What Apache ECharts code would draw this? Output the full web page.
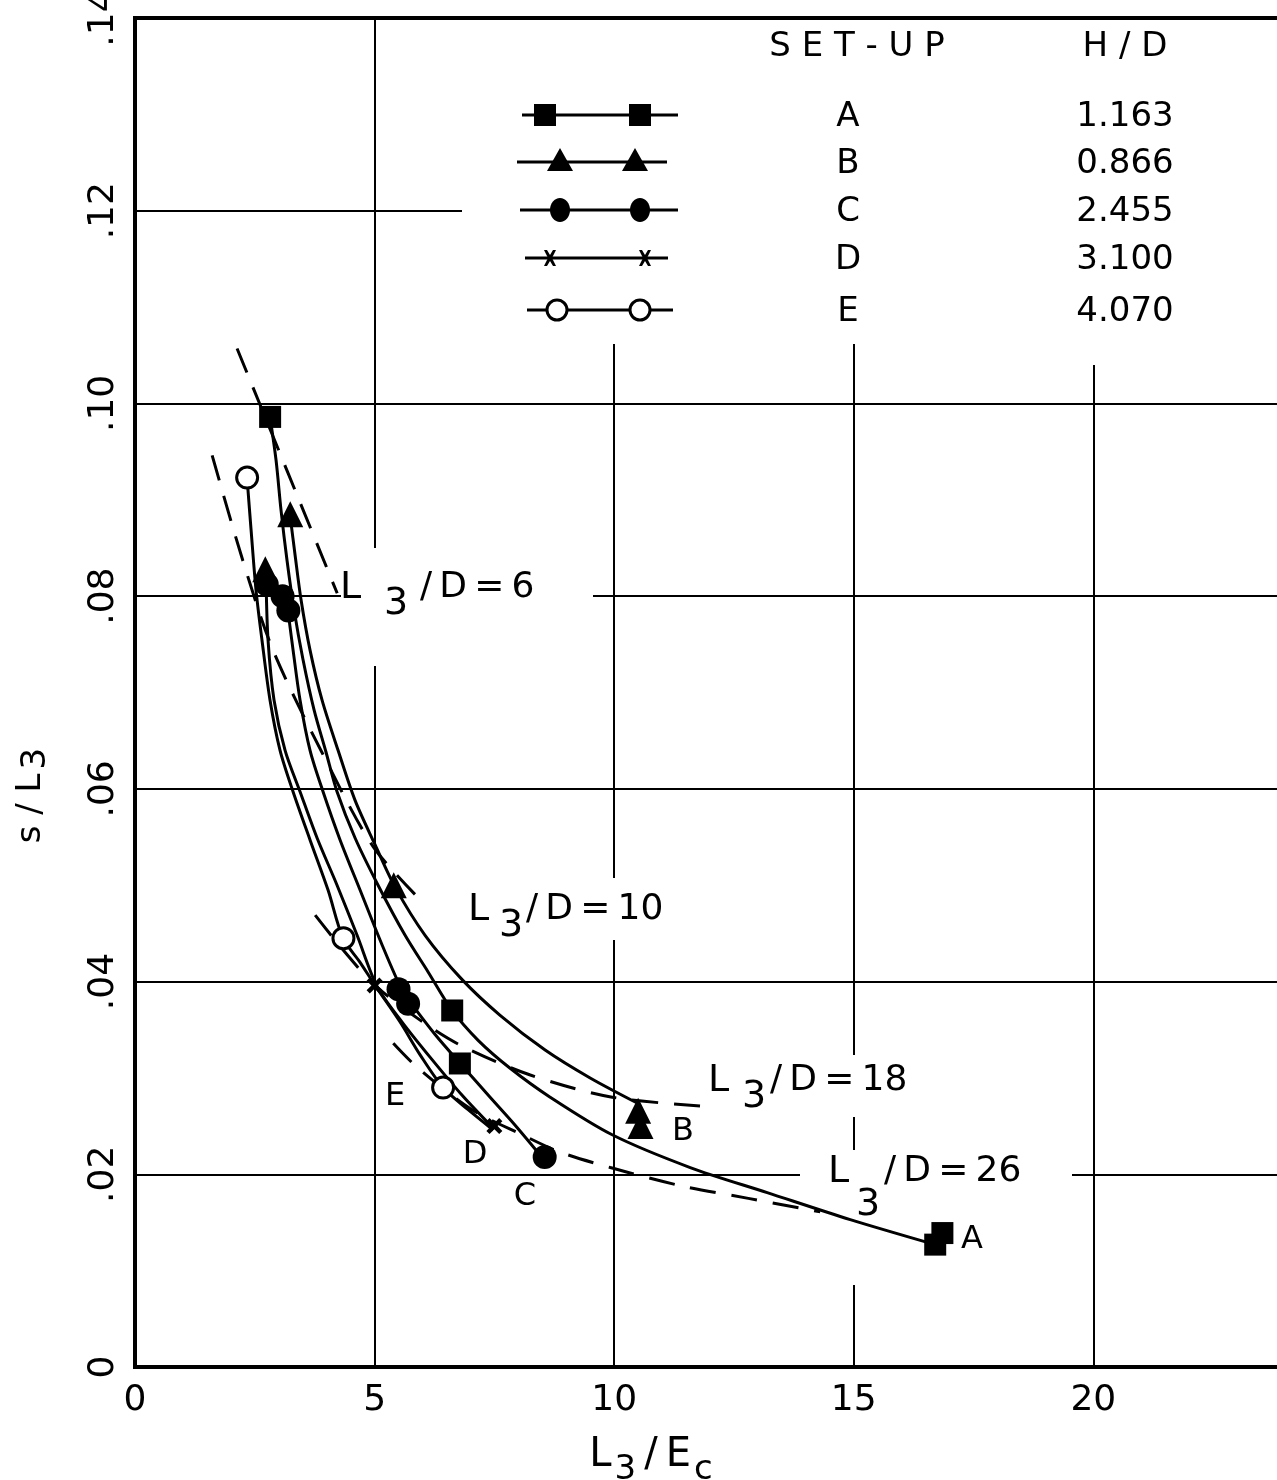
<!DOCTYPE html>
<html><head><meta charset="utf-8">
<script src="https://cdn.jsdelivr.net/npm/echarts@6/dist/echarts.min.js"></script>
<style>html,body{margin:0;padding:0;background:#fff}#c{width:1277px;height:1480px}</style>
</head><body><div id="c"></div>
<script>
// ---- data ----
const xTickValues = [0, 5, 10, 15, 20];
const yTickLabels = ['0', '.02', '.04', '.06', '.08', '.10', '.12', '.14'];
const setups = ['A', 'B', 'C', 'D', 'E'];
const hdValues = ['1.163', '0.866', '2.455', '3.100', '4.070'];

// measured points (L3/Ec, s/L3)
const pointsA = [[2.82, 0.0986], [6.62, 0.0370], [6.78, 0.0315], [16.7, 0.0127], [16.85, 0.0139]];
const pointsB = [[3.24, 0.0885], [2.72, 0.0828], [5.4, 0.0500], [10.5, 0.0266], [10.55, 0.0250]];
const pointsC = [[2.75, 0.0812], [3.08, 0.0800], [3.2, 0.0785], [5.5, 0.0392], [5.7, 0.0377], [8.55, 0.0218]];
const pointsD = [[5.0, 0.0396], [7.5, 0.0250]];
const pointsE = [[2.34, 0.0923], [4.35, 0.0445], [6.43, 0.0290]];

// fitted solid curves
const curveA = [[2.818, 0.0986], [2.944, 0.0941], [3.048, 0.0889], [3.173, 0.0837], [3.319, 0.0786], [3.507, 0.0734], [3.737, 0.0682], [3.987, 0.0638], [4.217, 0.0597], [4.593, 0.0549], [5.073, 0.0500], [5.637, 0.0448], [6.117, 0.0410], [6.618, 0.0370], [7.161, 0.0339], [7.829, 0.0310], [8.664, 0.0280], [9.958, 0.0241], [11.587, 0.0207], [13.194, 0.0181], [14.927, 0.0153], [16.701, 0.0127]];
const curveB = [[3.236, 0.0884], [3.340, 0.0843], [3.466, 0.0796], [3.653, 0.0744], [3.904, 0.0692], [4.238, 0.0640], [4.593, 0.0588], [5.010, 0.0542], [5.428, 0.0498], [6.054, 0.0448], [6.827, 0.0402], [7.620, 0.0365], [8.559, 0.0329], [9.499, 0.0300], [10.480, 0.0274]];
const curveC = [[3.194, 0.0784], [3.299, 0.0744], [3.445, 0.0692], [3.653, 0.0640], [3.925, 0.0597], [4.280, 0.0547], [4.697, 0.0495], [5.157, 0.0438], [5.574, 0.0391], [5.783, 0.0376], [6.263, 0.0345], [6.785, 0.0315], [7.411, 0.0280], [7.933, 0.0251], [8.455, 0.0220]];
const curveD = [[2.735, 0.0817], [2.777, 0.0754], [2.902, 0.0692], [3.132, 0.0640], [3.445, 0.0597], [3.800, 0.0549], [4.217, 0.0500], [4.635, 0.0448], [5.052, 0.0395], [5.574, 0.0358], [6.200, 0.0319], [6.827, 0.0282], [7.474, 0.0248]];
const curveE = [[2.338, 0.0923], [2.422, 0.0869], [2.526, 0.0806], [2.651, 0.0754], [2.818, 0.0692], [3.027, 0.0640], [3.299, 0.0597], [3.653, 0.0547], [4.029, 0.0495], [4.342, 0.0445], [4.697, 0.0420], [5.010, 0.0396], [5.532, 0.0358], [5.950, 0.0324], [6.430, 0.0290], [6.952, 0.0267], [7.474, 0.0246]];

// dashed lines of constant L3/D
const dashLabels = ['6', '10', '18', '26'];
const dash6 = [[2.13, 0.1057], [4.22, 0.0803]];
const dash10 = [[1.61, 0.0946], [2.25, 0.0837], [2.88, 0.0744], [3.9, 0.0638], [4.97, 0.0540], [6.01, 0.0482]];
const dash18 = [[3.76, 0.0469], [4.34, 0.0433], [5.01, 0.0396], [5.95, 0.0360], [6.79, 0.0334], [8.25, 0.0303], [9.96, 0.0280], [12.05, 0.0270]];
const dash26 = [[5.39, 0.0336], [5.89, 0.0311], [7.0, 0.0268], [8.08, 0.0241], [8.87, 0.0223], [9.92, 0.0207], [11.4, 0.0188], [12.8, 0.0175], [14.3, 0.0161]];

// ---- chart ----
const FONT = "'DejaVu Sans', 'Liberation Sans', sans-serif";
const chart = echarts.init(document.getElementById('c'), null, {renderer: 'canvas'});
const black = '#000';
const crossPath = 'path://M0,2 L2,0 L5,3 L8,0 L10,2 L7,5 L10,8 L8,10 L5,7 L2,10 L0,8 L3,5 Z';

function solid(data) {
  return {type: 'line', data, smooth: 0.3, symbol: 'none', silent: true, z: 3,
    lineStyle: {color: black, width: 3}};
}
function dashed(data) {
  return {type: 'line', data, smooth: 0.3, symbol: 'none', silent: true, z: 3,
    lineStyle: {color: black, width: 3, type: [26, 16]}};
}
function marks(data, symbol, size, fill, border) {
  return {type: 'scatter', data, symbol, symbolSize: size, z: 5, silent: true,
    itemStyle: {color: fill, borderColor: black, borderWidth: border, opacity: 1}};
}

// legend (graphic)
const g = [];
const legendRows = [115, 162, 210, 258, 310];
const txt = (x, y, s, size, align) => ({type: 'text', x, y, z: 20,
  style: {text: s, font: `${size}px ${FONT}`, fill: black, textAlign: align || 'center', textVerticalAlign: 'middle'}});
// masks that interrupt grid lines behind text
const mask = (x, y, w, h) => ({type: 'rect', z: 1, shape: {x, y, width: w, height: h}, style: {fill: '#fff'}});
g.push(mask(462, 20, 820, 324));
g.push(mask(1080, 340, 30, 25));
g.push(mask(341, 548, 252, 118));
g.push(mask(462, 878, 190, 62));
g.push(mask(700, 1055, 210, 62));
g.push(mask(800, 1150, 272, 135));

g.push(txt(857, 47, 'S E T - U P', 34));
g.push(txt(1125, 47, 'H / D', 34));
const lx = [[522, 678, 545, 640], [517, 667, 560, 635], [520, 678, 560, 640], [525, 668, 550, 645], [527, 673, 557, 640]];
legendRows.forEach((y, i) => {
  const [x0, x1, m0, m1] = lx[i];
  g.push({type: 'line', z: 20, shape: {x1: x0, y1: y, x2: x1, y2: y}, style: {stroke: black, lineWidth: 3}});
  [m0, m1].forEach(m => {
    if (i === 0) g.push({type: 'rect', z: 21, shape: {x: m - 11, y: y - 11, width: 22, height: 22}, style: {fill: black}});
    if (i === 1) g.push({type: 'polygon', z: 21, shape: {points: [[m, y - 14], [m - 13, y + 9], [m + 13, y + 9]]}, style: {fill: black}});
    if (i === 2) g.push({type: 'ellipse', z: 21, shape: {cx: m, cy: y, rx: 10, ry: 12}, style: {fill: black}});
    if (i === 3) g.push({type: 'polygon', z: 21, shape: {points: [[m-6,y-8],[m-3,y-8],[m,y-3],[m+3,y-8],[m+6,y-8],[m+2,y],[m+6,y+8],[m+3,y+8],[m,y+3],[m-3,y+8],[m-6,y+8],[m-2,y]]}, style: {fill: black}});
    if (i === 4) g.push({type: 'circle', z: 21, shape: {cx: m, cy: y, r: 10}, style: {fill: '#fff', stroke: black, lineWidth: 3}});
  });
  g.push(txt(848, y + 2, setups[i], 34));
  g.push(txt(1125, y + 2, hdValues[i], 34));
});

// L3/D annotations
function l3d(x, y, dx3, dy3, dxRest, val) {
  g.push(txt(x, y, 'L', 38, 'left'));
  g.push(txt(x + dx3, y + dy3, '3', 38, 'left'));
  g.push(txt(x + dxRest, y, '/\u2009D\u2009=\u2009' + val, 36, 'left'));
}
l3d(340, 588, 44, 16, 80, dashLabels[0]);
l3d(468, 910, 31, 16, 58, dashLabels[1]);
l3d(708, 1081, 34, 16, 62, dashLabels[2]);
l3d(828, 1172, 28, 33, 56, dashLabels[3]);

// curve letters
g.push(txt(395, 1097, 'E', 32));
g.push(txt(475, 1155, 'D', 32));
g.push(txt(525, 1197, 'C', 32));
g.push(txt(683, 1132, 'B', 32));
g.push(txt(972, 1240, 'A', 32));

const option = {
  backgroundColor: '#fff',
  animation: false,
  grid: {left: 135, top: 18, width: 1150, height: 1349, show: true, borderColor: black, borderWidth: 4,
    containLabel: false, outerBoundsMode: 'none'},
  xAxis: {
    type: 'value', min: 0, max: 24, interval: 5,
    axisLine: {show: false}, axisTick: {show: false},
    splitLine: {show: true, lineStyle: {color: black, width: 2}},
    axisLabel: {color: black, fontSize: 36, fontFamily: FONT, margin: 16,
      formatter: v => xTickValues.includes(v) ? String(v) : ''},
    name: '{a|L}{s|3}{a|\u2009/\u2009E}{s|c}', nameLocation: 'middle', nameGap: 58,
    nameTextStyle: {padding: [0, 118, 0, 0], rich: {
      a: {fontSize: 40, fontFamily: FONT, color: black},
      s: {fontSize: 34, fontFamily: FONT, color: black, padding: [28, 0, 0, 3]}
    }}
  },
  yAxis: {
    type: 'value', min: 0, max: 0.14, interval: 0.02,
    axisLine: {show: false}, axisTick: {show: false},
    splitLine: {show: true, lineStyle: {color: black, width: 2}},
    axisLabel: {color: black, fontSize: 36, fontFamily: FONT, margin: 13, rotate: 90,
      formatter: v => yTickLabels[Math.round(v / 0.02)]},
    name: '{a|s / L}{s|3}', nameLocation: 'middle', nameGap: 82, nameRotate: 90,
    nameTextStyle: {padding: [0, 206, 0, 0], rich: {
      a: {fontSize: 34, fontFamily: FONT, color: black},
      s: {fontSize: 34, fontFamily: FONT, color: black, padding: [10, 0, 0, 4]}
    }}
  },
  graphic: g,
  series: [
    solid(curveA), solid(curveB), solid(curveC), solid(curveD), solid(curveE),
    dashed(dash6), dashed(dash10), dashed(dash18), dashed(dash26),
    marks(pointsA, 'rect', 22, black, 0),
    marks(pointsB, 'triangle', 26, black, 0),
    marks(pointsC, 'circle', 24, black, 0),
    marks(pointsD, crossPath, 16, black, 0),
    marks(pointsE, 'circle', 21, '#fff', 3)
  ]
};
chart.setOption(option);
</script></body></html>
